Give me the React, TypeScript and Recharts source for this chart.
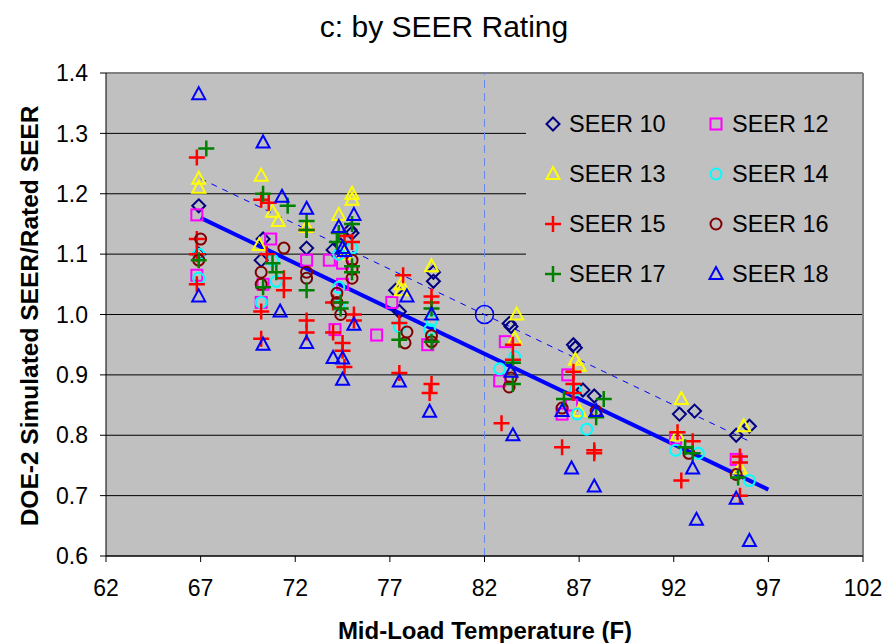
import React from 'react';
import {
  ScatterChart,
  Scatter,
  XAxis,
  YAxis,
  CartesianGrid,
  ReferenceLine,
  ReferenceDot,
} from 'recharts';

type Pt = { x: number; y: number };

const xTicks = [62, 67, 72, 77, 82, 87, 92, 97, 102];
const yTicks = [0.6, 0.7, 0.8, 0.9, 1.0, 1.1, 1.2, 1.3, 1.4];

const seer10: Pt[] = [
  { x: 66.9, y: 1.18 }, { x: 66.9, y: 1.1 }, { x: 70.3, y: 1.125 }, { x: 70.2, y: 1.09 },
  { x: 72.6, y: 1.11 }, { x: 74.0, y: 1.107 }, { x: 74.4, y: 1.115 }, { x: 75.0, y: 1.135 },
  { x: 74.9, y: 1.14 }, { x: 77.3, y: 1.04 }, { x: 77.5, y: 1.005 }, { x: 79.3, y: 1.07 },
  { x: 79.3, y: 1.055 }, { x: 83.3, y: 0.985 }, { x: 83.4, y: 0.98 }, { x: 86.7, y: 0.95 },
  { x: 86.8, y: 0.945 }, { x: 87.2, y: 0.875 }, { x: 87.8, y: 0.865 }, { x: 92.3, y: 0.835 },
  { x: 93.1, y: 0.84 }, { x: 95.3, y: 0.8 }, { x: 96.0, y: 0.815 },
];

const seer12: Pt[] = [
  { x: 66.8, y: 1.165 }, { x: 66.8, y: 1.065 }, { x: 70.7, y: 1.125 }, { x: 70.3, y: 1.05 },
  { x: 70.2, y: 1.02 }, { x: 72.6, y: 1.09 }, { x: 73.8, y: 1.09 }, { x: 74.5, y: 1.085 },
  { x: 74.5, y: 1.05 }, { x: 74.1, y: 0.975 }, { x: 77.1, y: 1.02 }, { x: 76.3, y: 0.966 },
  { x: 79.0, y: 0.95 }, { x: 83.1, y: 0.955 }, { x: 82.8, y: 0.89 }, { x: 86.4, y: 0.9 },
  { x: 86.6, y: 0.85 }, { x: 86.1, y: 0.835 }, { x: 92.1, y: 0.795 }, { x: 95.3, y: 0.76 },
];

const seer13: Pt[] = [
  { x: 66.9, y: 1.225 }, { x: 66.9, y: 1.21 }, { x: 70.2, y: 1.23 }, { x: 70.8, y: 1.17 },
  { x: 71.1, y: 1.155 }, { x: 70.1, y: 1.115 }, { x: 72.6, y: 1.145 }, { x: 74.3, y: 1.165 },
  { x: 75.0, y: 1.2 }, { x: 75.0, y: 1.19 }, { x: 74.6, y: 1.1 }, { x: 77.6, y: 1.05 },
  { x: 77.6, y: 1.04 }, { x: 79.2, y: 1.08 }, { x: 79.2, y: 1.0 }, { x: 83.7, y: 1.0 },
  { x: 83.6, y: 0.96 }, { x: 86.8, y: 0.925 }, { x: 87.0, y: 0.915 }, { x: 87.0, y: 0.84 },
  { x: 92.4, y: 0.86 }, { x: 92.2, y: 0.8 }, { x: 95.7, y: 0.815 }, { x: 95.5, y: 0.745 },
];

const seer14: Pt[] = [
  { x: 66.9, y: 1.1 }, { x: 66.9, y: 1.06 }, { x: 70.8, y: 1.09 }, { x: 71.0, y: 1.055 },
  { x: 70.2, y: 1.02 }, { x: 72.6, y: 1.06 }, { x: 74.3, y: 1.1 }, { x: 74.3, y: 1.045 },
  { x: 74.3, y: 1.015 }, { x: 75.0, y: 1.11 }, { x: 77.5, y: 0.98 }, { x: 79.2, y: 0.99 },
  { x: 79.1, y: 0.975 }, { x: 82.8, y: 0.91 }, { x: 83.6, y: 0.93 }, { x: 86.8, y: 0.875 },
  { x: 86.9, y: 0.835 }, { x: 87.4, y: 0.81 }, { x: 92.1, y: 0.775 }, { x: 93.3, y: 0.77 },
  { x: 96.0, y: 0.725 },
];

const seer15: Pt[] = [
  { x: 66.8, y: 1.26 }, { x: 66.8, y: 1.125 }, { x: 66.8, y: 1.1 }, { x: 66.8, y: 1.05 },
  { x: 70.2, y: 1.19 }, { x: 70.6, y: 1.185 }, { x: 70.5, y: 1.1 }, { x: 71.4, y: 1.06 },
  { x: 71.4, y: 1.04 }, { x: 70.2, y: 1.005 }, { x: 70.2, y: 0.96 }, { x: 72.6, y: 1.14 },
  { x: 72.6, y: 0.99 }, { x: 72.6, y: 0.97 }, { x: 74.6, y: 1.13 }, { x: 75.0, y: 1.12 },
  { x: 74.0, y: 1.02 }, { x: 74.0, y: 0.97 }, { x: 74.5, y: 0.953 }, { x: 74.5, y: 0.94 },
  { x: 74.6, y: 0.913 }, { x: 75.1, y: 1.0 }, { x: 75.1, y: 0.99 }, { x: 77.7, y: 1.065 },
  { x: 77.5, y: 0.986 }, { x: 77.5, y: 0.903 }, { x: 79.2, y: 1.03 }, { x: 79.2, y: 1.02 },
  { x: 79.2, y: 0.885 }, { x: 79.1, y: 0.87 }, { x: 83.5, y: 0.95 }, { x: 83.5, y: 0.925 },
  { x: 82.9, y: 0.82 }, { x: 86.7, y: 0.905 }, { x: 86.7, y: 0.885 }, { x: 86.7, y: 0.87 },
  { x: 86.1, y: 0.78 }, { x: 87.8, y: 0.775 }, { x: 87.8, y: 0.77 }, { x: 92.2, y: 0.805 },
  { x: 93.0, y: 0.79 }, { x: 92.4, y: 0.725 }, { x: 95.5, y: 0.765 }, { x: 95.5, y: 0.755 },
  { x: 95.5, y: 0.7 },
];

const seer16: Pt[] = [
  { x: 67.0, y: 1.125 }, { x: 66.9, y: 1.09 }, { x: 71.4, y: 1.11 }, { x: 70.2, y: 1.07 },
  { x: 70.2, y: 1.05 }, { x: 72.6, y: 1.07 }, { x: 72.6, y: 1.06 }, { x: 75.0, y: 1.09 },
  { x: 75.0, y: 1.075 }, { x: 75.0, y: 1.06 }, { x: 74.2, y: 1.035 }, { x: 74.2, y: 1.02 },
  { x: 74.4, y: 1.0 }, { x: 77.9, y: 0.971 }, { x: 77.8, y: 0.953 }, { x: 79.2, y: 0.965 },
  { x: 79.2, y: 0.955 }, { x: 83.4, y: 0.895 }, { x: 83.3, y: 0.88 }, { x: 86.1, y: 0.845 },
  { x: 87.9, y: 0.84 }, { x: 92.8, y: 0.77 }, { x: 95.3, y: 0.735 },
];

const seer17: Pt[] = [
  { x: 67.3, y: 1.275 }, { x: 66.9, y: 1.09 }, { x: 70.3, y: 1.2 }, { x: 71.6, y: 1.18 },
  { x: 70.8, y: 1.085 }, { x: 71.0, y: 1.07 }, { x: 70.3, y: 1.045 }, { x: 72.6, y: 1.155 },
  { x: 72.6, y: 1.14 }, { x: 72.6, y: 1.04 }, { x: 74.3, y: 1.135 }, { x: 74.2, y: 1.12 },
  { x: 75.0, y: 1.15 }, { x: 75.0, y: 1.08 }, { x: 75.0, y: 1.07 }, { x: 74.4, y: 1.01 },
  { x: 74.4, y: 1.02 }, { x: 77.5, y: 0.958 }, { x: 79.2, y: 1.01 }, { x: 79.2, y: 0.955 },
  { x: 83.5, y: 0.92 }, { x: 83.5, y: 0.885 }, { x: 86.2, y: 0.86 }, { x: 88.3, y: 0.86 },
  { x: 87.9, y: 0.83 }, { x: 92.6, y: 0.78 }, { x: 93.0, y: 0.77 }, { x: 95.4, y: 0.73 },
];

const seer18: Pt[] = [
  { x: 66.9, y: 1.365 }, { x: 66.9, y: 1.03 }, { x: 70.3, y: 1.285 }, { x: 71.3, y: 1.195 },
  { x: 71.2, y: 1.005 }, { x: 70.3, y: 0.95 }, { x: 72.6, y: 1.175 }, { x: 72.6, y: 0.953 },
  { x: 74.3, y: 1.145 }, { x: 75.1, y: 1.165 }, { x: 74.6, y: 1.105 }, { x: 74.5, y: 1.11 },
  { x: 75.1, y: 0.983 }, { x: 74.0, y: 0.928 }, { x: 74.5, y: 0.927 }, { x: 74.5, y: 0.892 },
  { x: 77.9, y: 1.03 }, { x: 77.5, y: 0.889 }, { x: 79.2, y: 1.0 }, { x: 79.1, y: 0.839 },
  { x: 83.4, y: 0.905 }, { x: 83.5, y: 0.8 }, { x: 86.1, y: 0.84 }, { x: 87.9, y: 0.84 },
  { x: 86.6, y: 0.745 }, { x: 87.8, y: 0.715 }, { x: 93.0, y: 0.745 }, { x: 93.2, y: 0.66 },
  { x: 95.3, y: 0.695 }, { x: 96.0, y: 0.625 },
];

const solidTrend: Pt[] = [{ x: 67, y: 1.16 }, { x: 97, y: 0.71 }];
const dashedTrend: Pt[] = [{ x: 67, y: 1.225 }, { x: 96, y: 0.79 }];
const ratedPoint: Pt = { x: 82, y: 1.0 };

type Kind = 'diamond' | 'square' | 'triangle' | 'circle' | 'plus';

const seriesList: { name: string; data: Pt[]; kind: Kind; color: string }[] = [
  { name: 'SEER 10', data: seer10, kind: 'diamond', color: '#000080' },
  { name: 'SEER 12', data: seer12, kind: 'square', color: '#ff00ff' },
  { name: 'SEER 13', data: seer13, kind: 'triangle', color: '#ffff00' },
  { name: 'SEER 14', data: seer14, kind: 'circle', color: '#00ffff' },
  { name: 'SEER 15', data: seer15, kind: 'plus', color: '#ff0000' },
  { name: 'SEER 16', data: seer16, kind: 'circle', color: '#800000' },
  { name: 'SEER 17', data: seer17, kind: 'plus', color: '#008000' },
  { name: 'SEER 18', data: seer18, kind: 'triangle', color: '#0000ff' },
];

function Marker({ kind, color, cx, cy }: { kind: Kind; color: string; cx: number; cy: number }) {
  if (cx == null || cy == null) return <g />;
  const sw = 2;
  switch (kind) {
    case 'diamond':
      return (
        <path
          d={`M${cx},${cy - 6.5}L${cx + 6.5},${cy}L${cx},${cy + 6.5}L${cx - 6.5},${cy}Z`}
          fill="none"
          stroke={color}
          strokeWidth={sw}
        />
      );
    case 'square':
      return <rect x={cx - 5.5} y={cy - 5.5} width={11} height={11} fill="none" stroke={color} strokeWidth={sw} />;
    case 'triangle':
      return (
        <path
          d={`M${cx},${cy - 7}L${cx + 6.5},${cy + 5}L${cx - 6.5},${cy + 5}Z`}
          fill="none"
          stroke={color}
          strokeWidth={sw}
        />
      );
    case 'circle':
      return <circle cx={cx} cy={cy} r={5.5} fill="none" stroke={color} strokeWidth={sw} />;
    default:
      return (
        <path
          d={`M${cx - 8},${cy}H${cx + 8}M${cx},${cy - 8}V${cy + 8}`}
          fill="none"
          stroke={color}
          strokeWidth={2.5}
        />
      );
  }
}

const font = 'Arial, "Liberation Sans", sans-serif';

export default function App() {
  return (
    <div style={{ position: 'absolute', left: 0, top: 0, width: 885, height: 643, background: '#fff' }}>
      <ScatterChart width={885} height={643} margin={{ top: 73, right: 22, bottom: 27, left: 0 }}>
        <CartesianGrid vertical={false} horizontal stroke="#000" fill="#c0c0c0" fillOpacity={1} />
        <XAxis
          type="number"
          dataKey="x"
          domain={[62, 102]}
          ticks={xTicks}
          height={60}
          tickSize={6}
          tickMargin={18}
          tick={{ fill: '#000', fontSize: 23, fontFamily: font }}
          tickLine={{ stroke: '#000' }}
          axisLine={{ stroke: '#000' }}
          allowDataOverflow
        />
        <YAxis
          type="number"
          dataKey="y"
          domain={[0.6, 1.4]}
          ticks={yTicks}
          width={106}
          tickSize={6}
          tickMargin={12}
          tickFormatter={(v: number) => v.toFixed(1)}
          tick={{ fill: '#000', fontSize: 23, fontFamily: font }}
          tickLine={{ stroke: '#000' }}
          axisLine={{ stroke: '#000' }}
          allowDataOverflow
        />
        <ReferenceLine y={1.4} stroke="#808080" strokeWidth={2} />
        <ReferenceLine x={102} stroke="#808080" strokeWidth={2} />
        <ReferenceLine x={82} stroke="#6688ee" strokeDasharray="8 5" strokeWidth={1} />
        <Scatter
          data={dashedTrend}
          line={{ stroke: '#0000ff', strokeWidth: 1, strokeDasharray: '6 6' }}
          shape={() => <g />}
          isAnimationActive={false}
        />
        <Scatter
          data={solidTrend}
          line={{ stroke: '#0000ff', strokeWidth: 4 }}
          shape={() => <g />}
          isAnimationActive={false}
        />
        {seriesList.map((s) => (
          <Scatter
            key={s.name}
            name={s.name}
            data={s.data}
            isAnimationActive={false}
            shape={(p: any) => <Marker kind={s.kind} color={s.color} cx={p.cx} cy={p.cy} />}
          />
        ))}
        <ReferenceDot x={ratedPoint.x} y={ratedPoint.y} r={9} fill="none" stroke="#0000ff" strokeWidth={1.5} />
      </ScatterChart>

      <svg
        width={885}
        height={643}
        style={{ position: 'absolute', left: 0, top: 0, pointerEvents: 'none' }}
      >
        <text x={444} y={37} textAnchor="middle" fontSize={30} fontFamily={font} fill="#000">
          c: by SEER Rating
        </text>
        <text
          x={485}
          y={639}
          textAnchor="middle"
          fontSize={24}
          fontWeight="bold"
          fontFamily={font}
          fill="#000"
        >
          Mid-Load Temperature (F)
        </text>
        <text
          transform="translate(38,316) rotate(-90)"
          textAnchor="middle"
          fontSize={24.5}
          fontWeight="bold"
          fontFamily={font}
          fill="#000"
        >
          DOE-2 Simulated SEER/Rated SEER
        </text>
        <rect x={526} y={98} width={336} height={202} fill="#c0c0c0" />
        {seriesList.map((s, i) => {
          const col = i % 2;
          const row = Math.floor(i / 2);
          const mx = col === 0 ? 553 : 716;
          const cy = 124 + row * 50;
          return (
            <g key={s.name}>
              <Marker kind={s.kind} color={s.color} cx={mx} cy={cy} />
              <text
                x={mx + 16}
                y={cy + 8}
                fontSize={23.5}
                fontFamily={font}
                fill="#000"
              >
                {s.name}
              </text>
            </g>
          );
        })}
      </svg>
    </div>
  );
}
